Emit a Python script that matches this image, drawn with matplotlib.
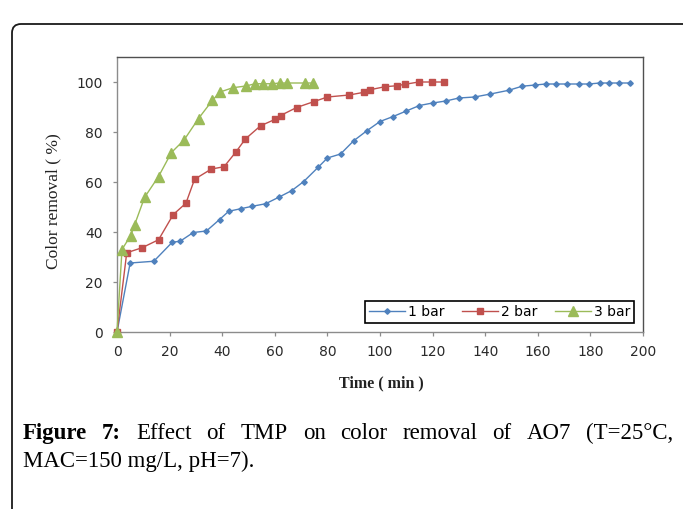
#!/usr/bin/env python3

import matplotlib
matplotlib.use('Agg')
import matplotlib.pyplot as plt
from matplotlib.patches import FancyBboxPatch
from matplotlib import transforms


# Data (time in min, colour removal in %).
t_1bar = [0, 5, 14, 21, 24, 29, 34, 39, 42.5, 47, 51.5, 56.5, 61.5, 66.5,
          71, 76.5, 80, 85, 90, 95, 100, 105, 110, 115, 120, 125, 130, 136,
          142, 149, 154, 159, 163, 167, 171, 175.5, 179.5, 183.5, 187, 191,
          195]
r_1bar = [0, 27.6, 28.3, 35.9, 36.3, 39.8, 40.4, 45, 48.3, 49.3, 50.3, 51.3,
          53.9, 56.6, 60.2, 65.9, 69.6, 71.2, 76.5, 80.5, 84.2, 86.2, 88.4,
          90.6, 91.6, 92.4, 93.6, 94, 95.2, 96.7, 98.3, 98.8, 99.2, 99.2,
          99.2, 99.2, 99.2, 99.6, 99.6, 99.6, 99.6]

t_2bar = [0, 3.7, 9.5, 15.8, 21.4, 26.2, 29.5, 35.9, 40.7, 45.2, 48.8, 54.6,
          60.2, 62.2, 68.3, 75, 80, 88.3, 94, 96.2, 101.8, 106.3, 109.6,
          114.7, 119.8, 124.5]
r_2bar = [0, 31.7, 33.7, 36.9, 47, 51.5, 61.1, 65.2, 66.1, 72, 77.2, 82.5,
          85.1, 86.6, 89.8, 92.2, 94, 94.8, 95.9, 96.9, 98.1, 98.5, 99.1,
          100, 100, 100]

t_3bar = [0, 1.9, 5.2, 6.7, 10.5, 15.8, 20.7, 25.5, 31, 36.3, 39.2, 44, 49,
          52.5, 55.6, 58.9, 62, 64.8, 71.5, 74.4]
r_3bar = [0, 33, 38.6, 42.9, 53.9, 62.2, 71.8, 76.8, 85.4, 92.7, 96, 97.7,
          98.4, 99.3, 99.3, 99.3, 99.6, 99.6, 99.6, 99.6]

labels = ['1 bar', '2 bar', '3 bar']
xticks = list(range(0, 201, 20))
yticks = list(range(0, 101, 20))

caption_line1 = ['Figure', '7:', 'Effect', 'of', 'TMP', 'on', 'color',
                 'removal', 'of', 'AO7', '(T=25°C,']
caption_line2 = 'MAC=150 mg/L, pH=7).'


# Figure, sized in pixels.
W, H, dpi = 683, 509, 100
fig = plt.figure(figsize=(W / dpi, H / dpi), dpi=dpi, facecolor='white')
px = transforms.Affine2D().scale(1 / dpi) + fig.dpi_scale_trans


def fx(x):
    return x / W


def fy(y):
    return 1 - y / H


# Outer rounded frame, right and bottom edges run off the canvas.
frame = FancyBboxPatch((12, -30), 688, H - 24 + 30,
                       boxstyle='round,pad=0,rounding_size=9',
                       transform=px, facecolor='none', edgecolor='#1a1a1a',
                       linewidth=1.3, clip_on=False)
fig.patches.append(frame)

ax = fig.add_axes((fx(117), fy(332), fx(643) - fx(117), fy(57) - fy(332)))

series = [
    (t_1bar, r_1bar, '#4F81BD', 'D', 2.8),
    (t_2bar, r_2bar, '#C0504D', 's', 4.8),
    (t_3bar, r_3bar, '#9BBB59', '^', 6.6),
]
for (t, r, c, m, ms), lab in zip(series, labels):
    ax.plot(t, r, color=c, lw=1.0, marker=m, ms=ms, mfc=c, mec=c,
            label=lab, clip_on=False, zorder=3)

ax.set_xlim(0, 200)
ax.set_ylim(0, 110)
ax.set_xticks(xticks)
ax.set_yticks(yticks)

for side in ['left', 'bottom']:
    ax.spines[side].set_color('#8c8c8c')
    ax.spines[side].set_linewidth(1.0)
for side in ['top', 'right']:
    ax.spines[side].set_color('#505050')
    ax.spines[side].set_linewidth(1.0)

ax.tick_params(axis='both', direction='out', length=3.2, width=0.9,
               color='#8c8c8c', labelsize=10, labelcolor='#2a2a2a')
ax.tick_params(axis='x', pad=6.5)
ax.tick_params(axis='y', pad=7)

leg = ax.legend(loc='lower right', bbox_to_anchor=(0.983, 0.033),
                borderaxespad=0, ncol=3, numpoints=1, fancybox=False,
                fontsize=10, handlelength=2.6, handletextpad=0.2,
                columnspacing=1.25, borderpad=0.3, framealpha=1)
leg.get_frame().set_edgecolor('black')
leg.get_frame().set_linewidth(1.2)

# Axis titles.
fig.text(fx(53), fy(201), 'Color removal ( %)', rotation=90, ha='center',
         va='center', family='Liberation Serif', fontsize=12.5,
         color='#222222')
fig.text(fx(381), fy(387), 'Time ( min )', ha='center', va='baseline',
         family='Liberation Serif', fontsize=11.5, fontweight='bold',
         color='#222222')

# Caption, first line justified between two edges.
cap_size = 16.5
x_left, x_right, base1, base2 = 23, 673, 439, 467
renderer = fig.canvas.get_renderer()
words = []
for i, w in enumerate(caption_line1):
    words.append(fig.text(0, fy(base1), w, ha='left', va='baseline',
                          family='Liberation Serif', fontsize=cap_size,
                          fontweight='bold' if i < 2 else 'normal',
                          color='black'))
widths = [t.get_window_extent(renderer).width for t in words]
gap = (x_right - x_left - sum(widths)) / (len(words) - 1)
x = x_left
for t, wd in zip(words, widths):
    t.set_x(fx(x))
    x += wd + gap

fig.text(fx(x_left), fy(base2), caption_line2, ha='left', va='baseline',
         family='Liberation Serif', fontsize=cap_size, color='black')

fig.savefig('out.png', dpi=dpi, facecolor='white')
